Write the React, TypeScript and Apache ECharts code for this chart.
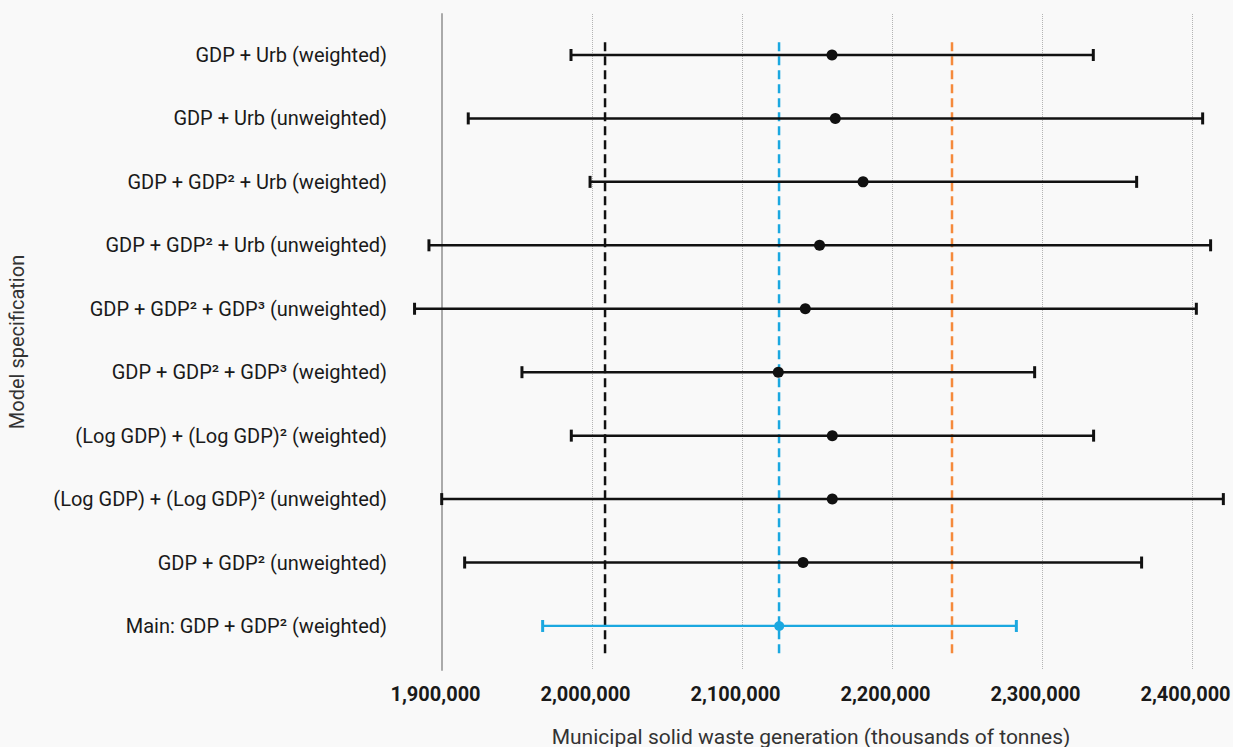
import React, { useEffect, useRef } from "react";
import * as echarts from "echarts";

const modelLabels = [
  "GDP + Urb (weighted)",
  "GDP + Urb (unweighted)",
  "GDP + GDP² + Urb (weighted)",
  "GDP + GDP² + Urb (unweighted)",
  "GDP + GDP² + GDP³ (unweighted)",
  "GDP + GDP² + GDP³ (weighted)",
  "(Log GDP) + (Log GDP)² (weighted)",
  "(Log GDP) + (Log GDP)² (unweighted)",
  "GDP + GDP² (unweighted)",
  "Main: GDP + GDP² (weighted)",
];
const estimates = [2160000, 2162200, 2180700, 2151700, 2142200, 2124200, 2160200, 2160200, 2140700, 2124800];
const lowerBounds = [1986000, 1917500, 1998700, 1891300, 1881700, 1953300, 1986200, 1899800, 1915100, 1967100];
const upperBounds = [2334200, 2407100, 2363100, 2412400, 2402900, 2295100, 2334400, 2420900, 2366400, 2282900];
const refValues = [2008700, 2124700, 2240000];
const refColors = ["#111111", "#1ba8e0", "#f58a3c"];
const xTicks = [1900000, 2000000, 2100000, 2200000, 2300000, 2400000];

const MAIN_COLOR = "#1ba8e0";
const BLACK = "#111111";

export default function App() {
  const ref = useRef<HTMLDivElement>(null);
  useEffect(() => {
    document.body.style.margin = "0";
    document.body.style.background = "#f9f9f9";
    const chart = echarts.init(ref.current!, null, { renderer: "svg" });
    const mainIdx = modelLabels.length - 1;
    const barData = modelLabels.map((_, i) => ({
      value: [lowerBounds[i], upperBounds[i], i],
      itemStyle: { color: i === mainIdx ? MAIN_COLOR : BLACK },
    }));
    const pointData = modelLabels.map((_, i) => ({
      value: [estimates[i], i],
      itemStyle: { color: i === mainIdx ? MAIN_COLOR : BLACK, opacity: 1 },
      symbolSize: i === mainIdx ? 10 : 11,
    }));
    const refSeries = refValues.map((v, k) => ({
      type: "line",
      data: [
        [v, -0.2],
        [v, 9.46],
      ],
      symbol: "none",
      silent: true,
      clip: false,
      z: 1,
      lineStyle: { color: refColors[k], width: 2.5, type: [9, 5] },
    }));
    const option: any = {
      animation: false,
      backgroundColor: "#f9f9f9",
      textStyle: { fontFamily: "Roboto" },
      grid: { left: 442, right: 8, top: 14, bottom: 77, outerBoundsMode: "none", containLabel: false },
      xAxis: {
        type: "value",
        min: xTicks[0],
        max: 2422000,
        interval: 100000,
        axisLine: { show: false },
        axisTick: { show: false },
        splitLine: {
          show: true,
          showMinLine: false,
          showMaxLine: false,
          lineStyle: { color: "#b4b4b4", type: "dotted", width: 1 },
        },
        axisLabel: {
          showMaxLabel: false,
          margin: 14,
          fontSize: 20,
          fontWeight: "bold",
          color: "#1a1a1a",
          fontFamily: "Roboto",
          padding: [0, 13, 0, 0],
          formatter: (v: number) => v.toLocaleString("en-US"),
        },
        name: "Municipal solid waste generation (thousands of tonnes)",
        nameLocation: "middle",
        nameGap: 56,
        nameTextStyle: { fontSize: 21, color: "#333333", fontFamily: "Roboto", padding: [0, 45, 0, 0] },
      },
      yAxis: {
        type: "value",
        inverse: true,
        min: -0.646,
        max: 9.694,
        axisLine: { show: true, lineStyle: { color: "#aaaaaa", width: 2 } },
        axisTick: { show: false },
        splitLine: { show: false },
        axisLabel: {
          customValues: modelLabels.map((_, i) => i),
          margin: 55,
          fontSize: 20,
          color: "#1a1a1a",
          fontFamily: "Roboto",
          formatter: (v: number) => modelLabels[Math.round(v)] ?? "",
        },
        name: "Model specification",
        nameLocation: "middle",
        nameRotate: 90,
        nameGap: 415,
        nameTextStyle: { fontSize: 20, color: "#333333", fontFamily: "Roboto" },
      },
      series: [
        ...refSeries,
        {
          type: "custom",
          clip: false,
          z: 3,
          data: barData,
          encode: { x: [0, 1], y: 2 },
          renderItem: (params: any, api: any) => {
            const y = api.value(2);
            const lo = api.coord([api.value(0), y]);
            const hi = api.coord([api.value(1), y]);
            const color = api.visual("color");
            const isMain = Math.round(y) === mainIdx;
            const w = isMain ? 2.2 : 2.5;
            const capH = 6;
            return {
              type: "group",
              children: [
                { type: "line", shape: { x1: lo[0], y1: lo[1], x2: hi[0], y2: hi[1] }, style: { stroke: color, lineWidth: w } },
                { type: "line", shape: { x1: lo[0], y1: lo[1] - capH, x2: lo[0], y2: lo[1] + capH }, style: { stroke: color, lineWidth: 3 } },
                { type: "line", shape: { x1: hi[0], y1: hi[1] - capH, x2: hi[0], y2: hi[1] + capH }, style: { stroke: color, lineWidth: 3 } },
              ],
            };
          },
        },
        {
          type: "scatter",
          clip: false,
          z: 4,
          symbol: "circle",
          data: pointData,
        },
      ],
    };
    chart.setOption(option);
    return () => chart.dispose();
  }, []);
  return <div ref={ref} style={{ width: 1233, height: 747 }} />;
}
